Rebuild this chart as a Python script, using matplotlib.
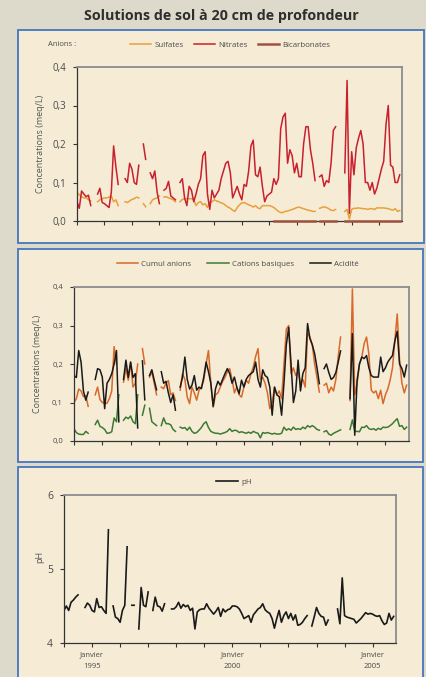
import matplotlib.pyplot as plt
import numpy as np
from matplotlib.patches import Rectangle
from matplotlib.ticker import FuncFormatter

plt.rcParams["font.family"] = ["Open Sans", "DejaVu Sans"]

nan = np.nan

# .. Time axis: months since January 1994 (one sample per month).
months = np.arange(142)
tick_months = np.arange(0, 142, 12)
x_labels = {12: "Janvier\n1995", 72: "Janvier\n2000", 132: "Janvier\n2005"}

# .. Panel 1: anions (meq/L). One row per year, Jan..Dec.
sulfates = [
    0.073, 0.068, 0.063, 0.06, 0.06, 0.055, 0.052, nan, nan, 0.05, 0.055, 0.058,
    0.06, 0.06, 0.062, 0.065, 0.05, 0.055, 0.04, nan, nan, 0.05, 0.048, 0.052,
    0.056, 0.058, 0.062, 0.06, nan, 0.045, 0.037, nan, 0.045, 0.055, 0.058, 0.06,
    0.065, nan, 0.062, 0.063, 0.06, 0.058, 0.055, 0.05, nan, 0.05, 0.056, 0.058,
    0.058, 0.058, 0.058, 0.055, 0.04, 0.048, 0.05, 0.042, 0.045, 0.035, 0.05, 0.05,
    0.055, 0.052, 0.05, 0.047, 0.045, 0.04, 0.036, 0.033, 0.028, 0.025, 0.035, 0.042,
    0.047, 0.048, 0.045, 0.042, 0.04, 0.036, 0.04, 0.034, 0.032, 0.04, 0.04, 0.04,
    0.04, 0.038, 0.035, 0.03, 0.025, 0.022, 0.022, 0.025, 0.026, 0.028, 0.03, 0.032,
    0.035, 0.036, 0.034, 0.032, 0.03, 0.028, 0.027, 0.025, 0.025, nan, 0.033, 0.035,
    0.037, 0.035, 0.032, 0.028, 0.027, 0.03, nan, nan, nan, 0.025, 0.03, 0.005,
    0.03, 0.033, 0.033, 0.034, 0.033, 0.032, 0.032, 0.03, 0.032, 0.032, 0.03, 0.034,
    0.034, 0.034, 0.034, 0.033, 0.032, 0.03, 0.028, 0.032, 0.025, 0.027,
]
nitrates = [
    0.05, 0.033, 0.078, 0.07, 0.063, 0.067, 0.04, nan, nan, 0.07, 0.085, 0.048,
    0.045, 0.04, 0.035, 0.075, 0.195, 0.14, 0.095, nan, nan, 0.11, 0.1, 0.15,
    0.135, 0.1, 0.095, 0.145, nan, 0.2, 0.16, nan, 0.125, 0.11, 0.13, 0.075,
    0.045, nan, 0.08, 0.085, 0.103, 0.065, 0.06, 0.055, nan, 0.1, 0.11, 0.06,
    0.04, 0.09, 0.08, 0.05, 0.07, 0.095, 0.11, 0.17, 0.18, 0.07, 0.03, 0.08,
    0.06, 0.07, 0.08, 0.11, 0.13, 0.15, 0.155, 0.125, 0.06, 0.075, 0.09, 0.07,
    0.055, 0.095, 0.09, 0.13, 0.195, 0.21, 0.12, 0.115, 0.14, 0.09, 0.05, 0.065,
    0.07, 0.075, 0.11, 0.095, 0.11, 0.24, 0.27, 0.28, 0.15, 0.185, 0.17, 0.125,
    0.15, 0.115, 0.115, 0.2, 0.245, 0.245, 0.185, 0.15, 0.105, nan, 0.115, 0.12,
    0.09, 0.105, 0.1, 0.15, 0.235, 0.245, nan, nan, nan, 0.125, 0.365, 0.02,
    0.18, 0.12, 0.19, 0.215, 0.235, 0.2, 0.1, 0.1, 0.08, 0.1, 0.07, 0.085,
    0.11, 0.135, 0.155, 0.25, 0.3, 0.145, 0.14, 0.1, 0.1, 0.12,
]
bicarbonates = [
    nan, nan, nan, nan, nan, nan, nan, nan, nan, nan, nan, nan,
    nan, nan, nan, nan, nan, nan, nan, nan, nan, nan, nan, nan,
    nan, nan, nan, nan, nan, nan, nan, nan, nan, nan, nan, nan,
    nan, nan, nan, nan, nan, nan, nan, nan, nan, nan, nan, nan,
    nan, nan, nan, nan, nan, nan, nan, nan, nan, nan, nan, nan,
    nan, nan, nan, nan, nan, nan, nan, nan, nan, nan, nan, nan,
    nan, nan, nan, nan, nan, nan, nan, nan, nan, nan, nan, nan,
    nan, nan, 0.0, 0.0, 0.0, 0.0, 0.0, 0.0, 0.0, 0.0, 0.0, 0.0,
    0.0, 0.0, 0.0, 0.0, 0.0, 0.0, 0.0, 0.0, 0.0, nan, 0.0, 0.0,
    0.0, 0.0, 0.0, 0.0, 0.0, 0.0, nan, nan, nan, 0.0, 0.0, 0.0,
    0.0, 0.0, 0.0, 0.0, 0.0, 0.0, 0.0, 0.0, 0.0, 0.0, 0.0, 0.0,
    0.0, 0.0, 0.0, 0.0, 0.0, 0.0, 0.0, 0.0, 0.0, 0.0,
]

# .. Panel 2: ionic balance (meq/L).
cumul_anions = [
    0.1, 0.11, 0.135, 0.13, 0.115, 0.118, 0.09, nan, nan, 0.12, 0.14, 0.108,
    0.1, 0.098, 0.098, 0.11, 0.13, 0.245, 0.2, nan, nan, 0.153, 0.19, 0.158,
    0.205, 0.14, 0.15, 0.2, nan, 0.24, 0.2, nan, 0.166, 0.18, 0.15, 0.12,
    nan, 0.14, 0.136, 0.15, 0.157, 0.12, 0.125, 0.105, nan, 0.132, 0.175, 0.16,
    0.114, 0.097, 0.14, 0.125, 0.106, 0.132, 0.14, 0.158, 0.2, 0.235, 0.15, 0.088,
    0.12, 0.125, 0.14, 0.155, 0.165, 0.18, 0.188, 0.16, 0.125, 0.14, 0.12, 0.114,
    0.14, 0.158, 0.15, 0.175, 0.192, 0.22, 0.24, 0.16, 0.165, 0.15, 0.125, 0.084,
    0.1, 0.14, 0.12, 0.13, 0.11, 0.2, 0.29, 0.3, 0.175, 0.19, 0.17, 0.18,
    0.15, 0.16, 0.14, 0.28, 0.27, 0.25, 0.2, 0.165, 0.127, nan, 0.145, 0.15,
    0.125, 0.14, 0.13, 0.16, 0.22, 0.27, nan, nan, nan, 0.105, 0.395, 0.12,
    0.149, 0.2, 0.218, 0.253, 0.27, 0.225, 0.132, 0.125, 0.13, 0.11, 0.132, 0.097,
    0.12, 0.135, 0.158, 0.19, 0.26, 0.33, 0.21, 0.15, 0.125, 0.145,
]
cations_basiques = [
    0.032, 0.022, 0.018, 0.017, 0.017, 0.025, 0.02, nan, nan, 0.043, 0.054, 0.038,
    0.035, 0.03, 0.02, 0.021, 0.024, 0.06, 0.05, 0.12, nan, 0.054, 0.062, 0.058,
    0.065, 0.05, 0.045, 0.12, nan, 0.067, 0.093, nan, 0.085, 0.05, 0.045, 0.04,
    nan, 0.04, 0.06, 0.045, 0.045, 0.042, 0.03, 0.025, nan, 0.036, 0.033, 0.035,
    0.028, 0.036, 0.025, 0.02, 0.022, 0.028, 0.035, 0.045, 0.05, 0.035, 0.025, 0.022,
    0.02, 0.02, 0.018, 0.02, 0.022, 0.025, 0.032, 0.025, 0.028, 0.027, 0.022, 0.024,
    0.022, 0.02, 0.023, 0.02, 0.025, 0.022, 0.02, 0.008, 0.022, 0.02, 0.022, 0.02,
    0.018, 0.02, 0.018, 0.018, 0.02, 0.036, 0.028, 0.032, 0.028, 0.036, 0.03, 0.032,
    0.03, 0.036, 0.032, 0.04, 0.036, 0.04, 0.036, 0.03, 0.028, nan, 0.024, 0.027,
    0.018, 0.015, 0.02, 0.023, 0.026, 0.029, nan, nan, nan, 0.03, 0.055, 0.025,
    0.025, 0.024, 0.036, 0.035, 0.04, 0.032, 0.03, 0.032, 0.028, 0.033, 0.03, 0.036,
    0.035, 0.036, 0.04, 0.045, 0.052, 0.058, 0.038, 0.04, 0.03, 0.036,
]
acidite = [
    0.17, 0.165, 0.235, 0.205, 0.13, 0.106, 0.127, nan, nan, 0.16, 0.188, 0.185,
    0.166, 0.084, 0.15, 0.16, 0.175, 0.2, 0.235, 0.05, nan, 0.16, 0.21, 0.165,
    0.205, 0.165, 0.175, 0.034, nan, 0.208, 0.107, nan, 0.17, 0.185, 0.158, 0.133,
    nan, 0.18, 0.15, 0.155, 0.125, 0.1, 0.12, 0.08, nan, 0.14, 0.166, 0.218,
    0.16, 0.135, 0.145, 0.17, 0.132, 0.14, 0.136, 0.166, 0.205, 0.18, 0.15, 0.09,
    0.136, 0.155, 0.145, 0.16, 0.175, 0.188, 0.175, 0.15, 0.166, 0.14, 0.123, 0.158,
    0.14, 0.16, 0.17, 0.175, 0.18, 0.205, 0.16, 0.14, 0.185, 0.17, 0.165, 0.14,
    0.067, 0.14, 0.12, 0.115, 0.067, 0.15, 0.25, 0.295, 0.2, 0.1, 0.13, 0.21,
    0.13, 0.175, 0.19, 0.305, 0.266, 0.25, 0.227, 0.19, 0.149, nan, 0.188, 0.2,
    0.178, 0.16, 0.165, 0.178, 0.205, 0.234, nan, nan, nan, 0.11, 0.279, 0.015,
    0.158, 0.2, 0.218, 0.214, 0.222, 0.19, 0.17, 0.166, 0.166, 0.166, 0.218, 0.18,
    0.19, 0.205, 0.214, 0.222, 0.26, 0.285, 0.2, 0.188, 0.166, 0.197,
]

# .. Panel 3: pH.
ph = [
    4.44, 4.5, 4.44, 4.55, 4.58, 4.62, 4.65, nan, nan, 4.48, 4.54, 4.51,
    4.44, 4.42, 4.6, 4.48, 4.49, 4.44, 4.4, 5.53, nan, 4.5, 4.35, 4.33,
    4.28, 4.44, 4.51, 5.3, nan, 4.51, 4.51, nan, 4.19, 4.75, 4.51, 4.49,
    4.69, nan, 4.44, 4.62, 4.5, 4.49, 4.43, 4.53, nan, nan, 4.46, 4.46,
    4.49, 4.55, 4.47, 4.52, 4.49, 4.51, 4.44, 4.47, 4.19, 4.42, 4.45, 4.46,
    4.46, 4.53, 4.47, 4.43, 4.39, 4.43, 4.48, 4.36, 4.46, 4.42, 4.45, 4.46,
    4.5, 4.5, 4.49, 4.46, 4.4, 4.33, 4.35, 4.37, 4.28, 4.38, 4.42, 4.46,
    4.48, 4.53, 4.45, 4.42, 4.4, 4.33, 4.2, 4.33, 4.44, 4.28, 4.37, 4.42,
    4.33, 4.4, 4.31, 4.38, 4.24, 4.25, 4.28, 4.33, 4.37, nan, 4.23, 4.35,
    4.48, 4.4, 4.36, 4.35, 4.24, 4.31, nan, nan, nan, 4.46, 4.26, 4.88,
    4.37, 4.35, 4.34, 4.33, 4.32, 4.27, 4.3, 4.33, 4.37, 4.41, 4.39, 4.4,
    4.39, 4.37, 4.36, 4.37, 4.3, 4.25, 4.27, 4.4, 4.31, 4.36,
]

# .. Figure geometry (reference is 427 x 677 px).
W, H = 427, 677
PANEL = "#f6ecd6"
BORDER = "#4576bd"
TEXT = "#4a4a4a"


def fig_box(x0, y0, x1, y1):
    """Convert a pixel box (top-left origin) to figure coordinates."""
    return [x0 / W, 1 - y1 / H, (x1 - x0) / W, (y1 - y0) / H]


def comma(v, pos):
    return f"{v:.1f}".replace(".", ",")


def style_axes(ax, ylim, yticks, size):
    ax.set_facecolor("none")
    ax.set_xlim(0, 142)
    ax.set_ylim(*ylim)
    ax.set_yticks(yticks)
    ax.set_xticks(tick_months)
    for side in ("top", "right"):
        ax.spines[side].set_color("#8c8c8c")
        ax.spines[side].set_linewidth(1.3)
    for side in ("left", "bottom"):
        ax.spines[side].set_color("#333333")
        ax.spines[side].set_linewidth(0.9)
    ax.tick_params(direction="out", length=3, width=0.8, colors="#333333",
                   labelsize=size, labelcolor=TEXT, pad=5)


fig = plt.figure(figsize=(W / 100, H / 100), dpi=100)
fig.patch.set_facecolor("#dddacb")

# .. Panel backgrounds.
for x0, y0, x1, y1 in [(18, 30, 424, 243), (18, 249, 423, 462),
                       (18, 467, 423, 700)]:
    x, y, w, h = fig_box(x0, y0, x1, y1)
    fig.add_artist(Rectangle((x, y), w, h, transform=fig.transFigure,
                             facecolor=PANEL, edgecolor=BORDER, lw=1.3,
                             zorder=-1))

fig.text(221 / W, 1 - 16 / H, "Solutions de sol à 20 cm de profondeur",
         ha="center", va="center", fontsize=10.3, fontweight="bold",
         color="#2e2e2e")

# .. Panel 1: anions.
ax1 = fig.add_axes(fig_box(77, 67, 402, 221))
style_axes(ax1, (0, 0.4), [0, 0.1, 0.2, 0.3, 0.4], 7)
ax1.yaxis.set_major_formatter(FuncFormatter(comma))
ax1.set_xticklabels([])
l1 = ax1.plot(months, sulfates, color="#e8a03a", lw=1.1, label="Sulfates")[0]
l2 = ax1.plot(months, nitrates, color="#c8202e", lw=1.1, label="Nitrates")[0]
l3 = ax1.plot(months, bicarbonates, color="#a0523f", lw=1.8, clip_on=False,
              zorder=4, label="Bicarbonates")[0]
ax1.set_ylabel("Concentrations (meq/L)", fontsize=6.5, color="#555555")
ax1.yaxis.set_label_coords(-0.098, 0.5)
fig.text(48 / W, 1 - 45 / H, "Anions :", fontsize=5.5, va="center",
         color=TEXT)
fig.legend([l1, l2, l3], ["Sulfates", "Nitrates", "Bicarbonates"],
           loc="center", bbox_to_anchor=(230 / W, 1 - 45 / H), ncol=3,
           frameon=False, fontsize=5.7, handlelength=2.7, handletextpad=0.4,
           columnspacing=1.3, labelcolor=TEXT)

# .. Panel 2: cumulated anions, basic cations and acidity.
ax2 = fig.add_axes(fig_box(74, 287, 409, 441))
style_axes(ax2, (0, 0.4), [0, 0.1, 0.2, 0.3, 0.4], 5.5)
ax2.yaxis.set_major_formatter(FuncFormatter(comma))
ax2.set_xticklabels([])
m1 = ax2.plot(months, cumul_anions, color="#d9692a", lw=1.1)[0]
m2 = ax2.plot(months, cations_basiques, color="#3c7a34", lw=1.1)[0]
m3 = ax2.plot(months, acidite, color="#1a1a1a", lw=1.1)[0]
ax2.set_ylabel("Concentrations (meq/L)", fontsize=6.5, color="#555555")
ax2.yaxis.set_label_coords(-0.096, 0.5)
fig.legend([m1, m2, m3], ["Cumul anions", "Cations basiques", "Acidité"],
           loc="center", bbox_to_anchor=(238 / W, 1 - 264 / H), ncol=3,
           frameon=False, fontsize=5.7, handlelength=2.7, handletextpad=0.4,
           columnspacing=2.0, labelcolor=TEXT)

# .. Panel 3: pH.
ax3 = fig.add_axes(fig_box(64, 495, 396, 643))
style_axes(ax3, (4, 6), [4, 5, 6], 7.5)
ax3.set_xticklabels([x_labels.get(m, "") for m in tick_months],
                    fontsize=5.5, linespacing=1.9)
ax3.tick_params(axis="x", pad=3)
n1 = ax3.plot(months, ph, color="#1a1a1a", lw=1.2)[0]
ax3.set_ylabel("pH", fontsize=6.5, color="#555555")
ax3.yaxis.set_label_coords(-0.06, 0.58)
fig.legend([n1], ["pH"], loc="center", bbox_to_anchor=(234 / W, 1 - 482 / H),
           frameon=False, fontsize=5.7, handlelength=2.7, handletextpad=0.4,
           labelcolor=TEXT)

fig.savefig("out.png", dpi=100, facecolor=fig.get_facecolor())
